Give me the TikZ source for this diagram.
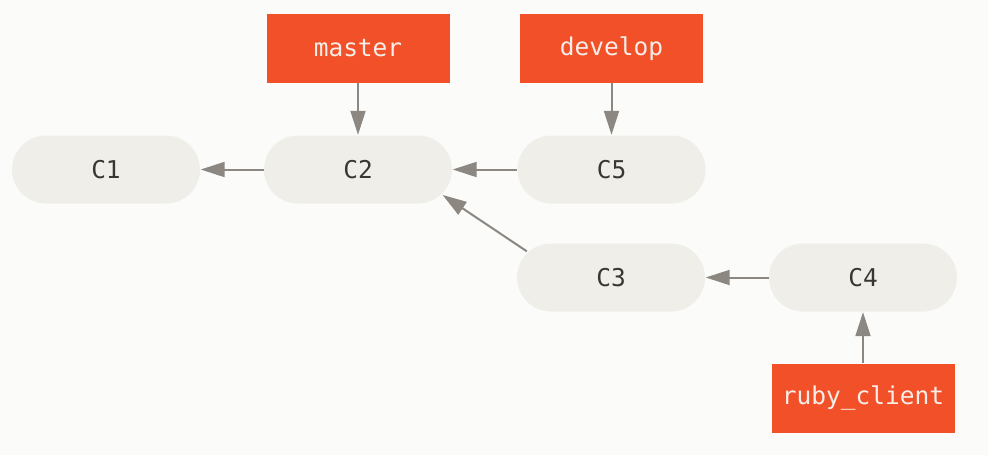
\documentclass[tikz,border=0pt]{standalone}
\usepackage{fontspec}
\setmonofont{DejaVu Sans Mono}
\usetikzlibrary{arrows.meta,calc}
\definecolor{bgcol}{HTML}{FBFBF9}
\definecolor{commitfill}{HTML}{EFEEE8}
\definecolor{committext}{HTML}{3A3634}
\definecolor{reffill}{HTML}{F25029}
\definecolor{reftext}{HTML}{F6EEE8}
\definecolor{linkcol}{HTML}{8C8781}
\tikzset{
  commit/.style={fill=commitfill, draw=none, rounded corners=34pt,
    minimum width=188pt, minimum height=68pt, inner sep=0pt,
    text=committext, font=\ttfamily\fontsize{24.5}{29}\selectfont},
  branchref/.style={fill=reffill, draw=none, minimum width=183pt,
    minimum height=69pt, inner sep=0pt, text=reftext,
    font=\ttfamily\fontsize{24.5}{29}\selectfont},
  link/.style={draw=linkcol, line width=2pt,
    -{Triangle[length=24pt,width=15pt]}, shorten >=0.5pt}
}
\begin{document}
\begin{tikzpicture}[x=1pt,y=-1pt]
  \fill[bgcol] (0,0) rectangle (988,455);
  \useasboundingbox (0,0) rectangle (988,455);

  % commits
  \node[commit] (C1) at (106,169.5) {C1};
  \node[commit] (C2) at (358,169.5) {C2};
  \node[commit] (C5) at (611.5,169.5) {C5};
  \node[commit] (C3) at (611,277.5) {C3};
  \node[commit] (C4) at (863,277.5) {C4};

  % branch labels
  \node[branchref] (master) at (358,48.5) {master};
  \node[branchref] (develop) at (611.5,48.5) {develop};
  \node[branchref] (ruby) at (863,398) {ruby\_client};

  % parent links
  \draw[link] (C2.west) -- (C1.east);
  \draw[link] (C5.west) -- (C2.east);
  \draw[link] (C4.west) -- (C3.east);
  \draw[link] ($(C3.north west)+(10,8)$) -- ($(C2.south east)+(-10,-9)$);

  % branch pointers
  \draw[link] (master.south) -- (C2.north);
  \draw[link] (develop.south) -- (C5.north);
  \draw[link] (ruby.north) -- (C4.south);
\end{tikzpicture}
\end{document}
